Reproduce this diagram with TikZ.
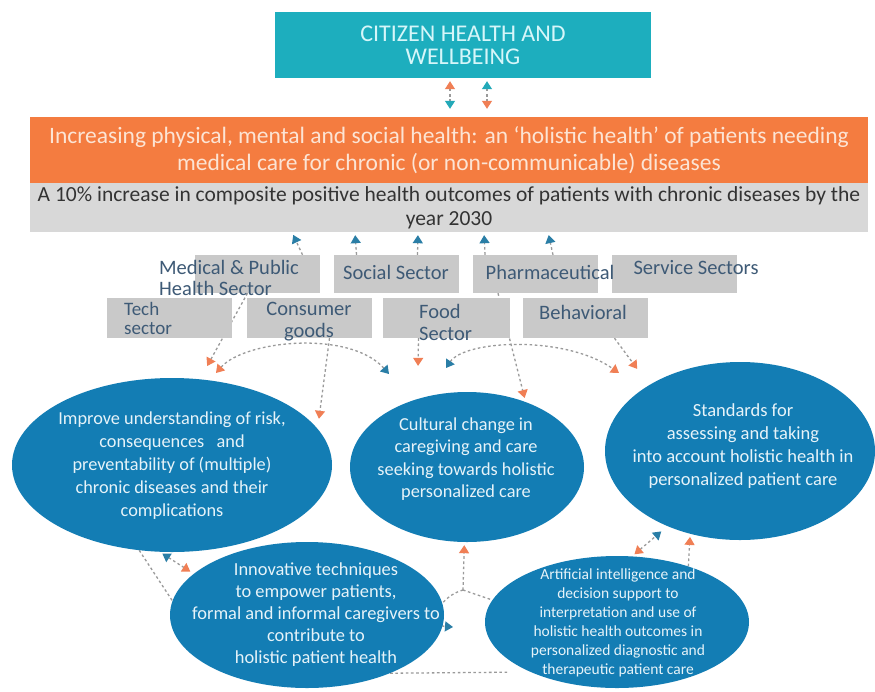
\documentclass[tikz,border=0pt]{standalone}
\usepackage{fontspec}
\setmainfont{Carlito}
\usetikzlibrary{shapes.geometric,arrows.meta}
\definecolor{tealbox}{HTML}{1DAEBE}
\definecolor{orangeband}{HTML}{F47C40}
\definecolor{greyband}{HTML}{D8D8D8}
\definecolor{sectgrey}{HTML}{C9C9C9}
\definecolor{ellblue}{HTML}{137DB4}
\definecolor{sectxt}{HTML}{3E5A76}
\definecolor{elltxt}{HTML}{E6F3F9}
\definecolor{toptxt}{HTML}{D6F6F9}
\definecolor{orgtxt}{HTML}{FCE4D4}
\definecolor{greytxt}{HTML}{333333}
\definecolor{dashgrey}{HTML}{9A9A9A}
\definecolor{arrorange}{HTML}{F07F55}
\definecolor{arrblue}{HTML}{2A7EA6}
\definecolor{arrteal}{HTML}{23A9B8}
\pgfdeclarelayer{bg}
\pgfsetlayers{bg,main}
\tikzset{
  Otip/.tip={Triangle[color=arrorange,length=8pt,width=10pt]},
  Btip/.tip={Triangle[color=arrblue,length=8pt,width=10pt]},
  Ttip/.tip={Triangle[color=arrteal,length=8pt,width=10pt]},
  conn/.style={draw=dashgrey, line width=1.3pt, dash pattern=on 2.6pt off 2.6pt},
  sectbox/.style={fill=sectgrey, draw=none, minimum width=125pt, minimum height=38pt, inner sep=0pt},
  secttext/.style={text=sectxt, font=\fontsize{20.5}{21}\selectfont, inner sep=0pt},
  ell/.style={ellipse, fill=ellblue, draw=none, inner sep=0pt},
  elltext/.style={text=elltxt, align=center, inner sep=0pt},
}
\begin{document}
\begin{tikzpicture}[x=1pt,y=-1pt]
\useasboundingbox (0,0) rectangle (875,691);
\begin{pgfonlayer}{bg}
\fill[white] (0,0) rectangle (875,691);
\end{pgfonlayer}

% header boxes
\node[fill=tealbox, minimum width=376pt, minimum height=66pt, inner sep=0pt, text=toptxt, align=center, font=\fontsize{24}{23}\selectfont] (top) at (463,45) {CITIZEN HEALTH AND\\WELLBEING};
\node[fill=orangeband, minimum width=838pt, minimum height=66pt, inner sep=0pt, text=orgtxt, align=center, font=\fontsize{23.5}{27}\selectfont] (band) at (449,150) {Increasing physical, mental and social health: an `holistic health' of patients needing\\medical care for chronic (or non-communicable) diseases};
\node[fill=greyband, minimum width=838pt, minimum height=49pt, inner sep=0pt, text=greytxt, align=center, font=\fontsize{21.5}{24}\selectfont] (goal) at (449,207.5) {A 10\% increase in composite positive health outcomes of patients with chronic diseases by the\\year 2030};

% sector boxes
\node[sectbox] (med) at (257.5,274) {};
\node[sectbox] (soc) at (396.5,274) {};
\node[sectbox] (pha) at (535,274) {};
\node[sectbox] (ser) at (674.5,274) {};
\node[sectbox, minimum height=40pt] (tech) at (169.5,318) {};
\node[sectbox, minimum height=40pt] (cons) at (309.5,318) {};
\node[sectbox, minimum height=40pt, minimum width=127pt] (food) at (446.5,318) {};
\node[sectbox, minimum height=40pt] (beh) at (585.5,318) {};

\node[secttext, anchor=west, align=left] (medt) at (159,278) {Medical \& Public\\Health Sector};
\node[secttext] (soct) at (396,272) {Social Sector};
\node[secttext] (phat) at (550,272) {Pharmaceutical};
\node[secttext] (sert) at (696,268) {Service Sectors};
\node[secttext, anchor=west, align=left, font=\fontsize{19}{19}\selectfont] (techt) at (124,318) {Tech\\sector};
\node[secttext, align=center, font=\fontsize{20.5}{22}\selectfont] (const) at (309,322) {Consumer\\goods};
\node[secttext, anchor=west, align=left, font=\fontsize{20.5}{22}\selectfont] (foodt) at (419,322) {Food\\Sector};
\node[secttext] (beht) at (583,312) {Behavioral};

% ellipses
\node[ell, minimum width=320pt, minimum height=174pt] (e1) at (172,465) {};
\node[ell, minimum width=234pt, minimum height=150pt] (e2) at (467,467) {};
\node[ell, minimum width=270pt, minimum height=178pt] (e3) at (740,451) {};
\node[ell, minimum width=274pt, minimum height=146pt] (e4) at (307,615) {};
\node[ell, minimum width=264pt, minimum height=132pt] (e5) at (617,622) {};

\node[elltext, font=\fontsize{18.3}{23}\selectfont] (e1t) at (172,466) {Improve understanding of risk,\\consequences~~ and\\preventability of (multiple)\\chronic diseases and their\\complications};
\node[elltext, font=\fontsize{18.3}{22.5}\selectfont] (e2t) at (466,459) {Cultural change in\\caregiving and care\\seeking towards holistic\\personalized care};
\node[elltext, font=\fontsize{18.5}{23}\selectfont] (e3t) at (743,446) {Standards for\\assessing and taking\\into account holistic health in\\personalized patient care};
\node[elltext, font=\fontsize{18.4}{22}\selectfont] (e4t) at (316,615) {Innovative techniques\\to empower patients,\\formal and informal caregivers to\\contribute to\\holistic patient health};
\node[elltext, font=\fontsize{15.5}{19}\selectfont] (e5t) at (618,623) {Artificial intelligence and\\decision support to\\interpretation and use of\\holistic health outcomes in\\personalized diagnostic and\\therapeutic patient care};

\coordinate (a1s) at (216,373);
\coordinate (a1e) at (389,374);
\coordinate (a2s) at (446,368);
\coordinate (a2e) at (619,373);
\coordinate (j) at (463,590);
\coordinate (bt) at (453,627);

\begin{pgfonlayer}{bg}
% header arrows
\draw[conn, arrows={Otip-Ttip}, shorten <=3pt, shorten >=8pt] ([xshift=-13pt]top.south) -- ([xshift=1pt]band.north);
\draw[conn, arrows={Ttip-Otip}, shorten <=3pt, shorten >=8pt] ([xshift=24pt]top.south) -- ([xshift=38pt]band.north);
% up arrows to goal
\draw[conn, -Btip, shorten >=3pt] ([xshift=45pt]med.north) -- ([xshift=-157pt]goal.south);
\draw[conn, -Btip, shorten >=3pt] ([xshift=-40pt]soc.north) -- ([xshift=-94pt]goal.south);
\draw[conn, -Btip, shorten >=3pt] ([xshift=21pt]soc.north) -- ([xshift=-31pt]goal.south);
\draw[conn, -Btip, shorten >=3pt] ([xshift=-50pt]pha.north) -- ([xshift=35pt]goal.south);
\draw[conn, -Btip, shorten >=3pt] ([xshift=18pt]pha.north) -- ([xshift=99pt]goal.south);
% down arrows to ellipses
\draw[conn, -Otip, shorten >=15pt] ([xshift=-10pt]med.south) -- (e1.72);
\draw[conn, -Otip, shorten >=10pt] ([xshift=20pt]cons.south) -- (e1.14);
\draw[conn, -Otip, shorten >=33pt] ([xshift=-28pt]food.south) -- (e2.126);
\draw[conn, -Otip, shorten >=4pt] ([xshift=-37pt]pha.south) -- (e2.48);
\draw[conn, -Otip, shorten >=20pt] ([xshift=29pt]beh.south) -- (e3.144);
% arcs
\draw[conn, arrows={Otip-Btip}] (a1s) .. controls (245,340) and (350,330) .. (a1e);
\draw[conn, arrows={Btip-Otip}] (a2s) .. controls (465,340) and (565,335) .. (a2e);
% bottom links
\draw[conn, arrows={Btip-Otip}, shorten <=3pt, shorten >=4pt] (e1.-98) -- (e4.160);
\draw[conn] (e1.-111) -- (e4.174);
\draw[conn, shorten >=22pt] (e4.-35) -- (e5.-150);
\draw[conn, -Otip, shorten >=3pt] (j) -- (e2.-92);
\draw[conn] (j) -- (e5.170);
\draw[conn, -Btip] (j) .. controls (440,596) and (425,625) .. (bt);
\draw[conn, arrows={Otip-Btip}, shorten <=3pt, shorten >=8pt] (e5.77) -- (e3.-134);
\draw[conn, -Otip, shorten >=3pt] (e5.38) -- (e3.-121);
\end{pgfonlayer}
\end{tikzpicture}
\end{document}
